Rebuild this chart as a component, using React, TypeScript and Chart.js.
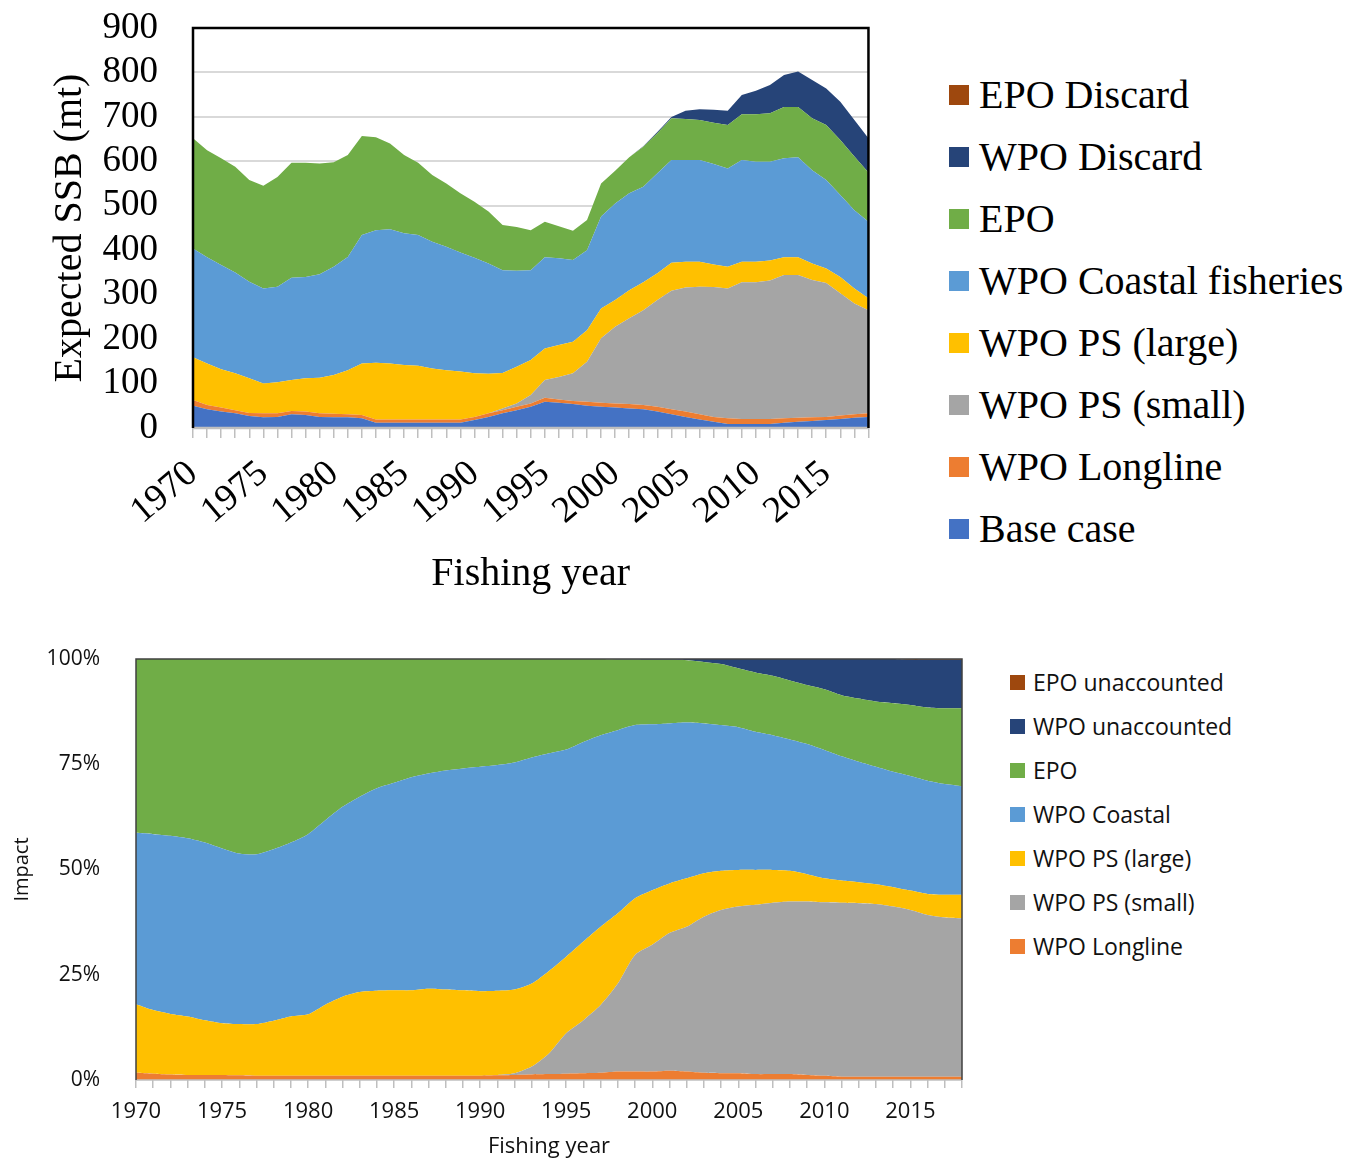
import React, { useEffect, useRef } from "react";
import { Chart, registerables } from "chart.js";
Chart.register(...registerables);

const years = [
  1970, 1971, 1972, 1973, 1974, 1975, 1976, 1977, 1978, 1979,
  1980, 1981, 1982, 1983, 1984, 1985, 1986, 1987, 1988, 1989,
  1990, 1991, 1992, 1993, 1994, 1995, 1996, 1997, 1998, 1999,
  2000, 2001, 2002, 2003, 2004, 2005, 2006, 2007, 2008, 2009,
  2010, 2011, 2012, 2013, 2014, 2015, 2016, 2017, 2018,
];

// ---- Top chart: expected SSB (mt), stacked ----
const baseCase = [50,42,37,33,27,24,25,31,29,25,24,24,22,12,12,12,12,12,12,12,18,25,33,40,48,59,57,54,50,48,46,44,42,37,31,25,19,14,9,9,9,9,12,14,16,18,20,23,25];
const wpoLongline = [13,10,9,7,7,9,8,7,8,8,8,7,7,7,7,7,7,7,7,7,7,8,7,8,7,9,7,7,9,9,9,10,10,11,11,12,12,11,13,11,11,11,10,9,8,7,8,8,8];
const wpoPsSmall = [0,0,0,0,0,0,0,0,0,0,0,0,0,0,0,0,0,0,0,0,0,0,4,7,19,40,51,62,90,145,173,193,213,240,267,279,287,292,292,308,308,312,322,321,309,301,275,249,232];
const wpoPsLarge = [96,93,86,83,78,67,70,70,75,80,87,99,116,128,126,123,121,115,111,108,98,89,80,83,79,71,72,71,71,67,60,63,63,60,63,58,56,51,49,46,46,45,40,40,37,33,37,34,27];
const wpoCoastal = [245,239,235,227,217,214,215,230,228,233,244,255,289,298,302,296,294,285,278,268,260,248,231,216,202,205,195,184,180,207,217,218,215,225,231,229,229,226,221,229,225,222,223,225,210,199,184,176,172];
const epo = [248,241,240,238,229,231,247,259,257,249,235,229,223,209,193,176,163,150,142,133,126,117,102,98,90,80,72,66,68,74,74,81,90,90,94,92,90,93,98,103,107,109,115,113,117,124,124,121,111];
const wpoDiscard = [0,0,0,0,0,0,0,0,0,0,0,0,0,0,0,0,0,0,0,0,0,0,0,0,0,0,0,0,0,0,0,0,1,3,3,19,24,29,32,43,53,64,72,80,86,82,86,82,77];
const epoDiscard = [0,0,0,0,0,0,0,0,0,0,0,0,0,0,0,0,0,0,0,0,0,0,0,0,0,0,0,0,0,0,0,0,0,0,0,0,0,0,0,0,0,0,0,0,0,0,0,0,0];

const topNames = ["Base case", "WPO Longline", "WPO PS (small)", "WPO PS (large)", "WPO Coastal fisheries", "EPO", "WPO Discard", "EPO Discard"];
const topSeries = [baseCase, wpoLongline, wpoPsSmall, wpoPsLarge, wpoCoastal, epo, wpoDiscard, epoDiscard];
const topColors = ["#4472C4", "#ED7D31", "#A5A5A5", "#FFC000", "#5B9BD5", "#70AD47", "#264478", "#9E480E"];
const topYTicks = [0, 100, 200, 300, 400, 500, 600, 700, 800, 900];

// ---- Bottom chart: impact (%), stacked to 100 ----
const impLongline = [1.7,1.5,1.3,1.2,1.2,1.2,1.1,1.0,1.0,1.0,1.0,1.0,1.0,1.0,1.0,1.0,1.0,1.0,1.0,1.0,1.0,1.1,1.2,1.3,1.4,1.5,1.6,1.7,2.0,2.0,2.0,2.2,2.0,1.7,1.6,1.6,1.4,1.4,1.4,1.2,1.0,0.8,0.8,0.8,0.8,0.8,0.8,0.8,0.8];
const impPsSmall = [0,0,0,0,0,0,0,0,0,0,0,0,0,0,0,0,0,0,0,0,0,0.1,0.4,1.9,4.9,9.6,12.6,16.1,20.9,27.7,30.1,32.7,34.4,37.1,38.8,39.6,40.2,40.7,41.0,41.2,41.2,41.3,41.2,41.0,40.4,39.6,38.4,37.8,37.6];
const impPsLarge = [16.3,15.1,14.4,13.9,13.0,12.3,12.2,12.3,13.1,14.1,14.6,16.9,18.8,19.9,20.2,20.3,20.3,20.7,20.5,20.3,20.1,20.0,19.9,19.7,19.6,18.2,18.7,18.6,16.7,13.5,13.0,11.8,11.5,10.3,9.3,8.7,8.3,7.8,7.3,6.5,5.7,5.3,5.0,4.7,4.6,4.6,5.0,5.4,5.6];
const impCoastal = [40.7,41.8,42.3,42.3,42.2,41.5,40.5,40.3,40.7,41.3,42.8,43.8,45.1,46.4,48.1,49.3,50.6,51.1,52.0,52.7,53.3,53.6,53.9,53.7,51.7,49.2,47.4,45.5,43.5,41.1,39.4,38.0,37.0,35.6,34.6,33.9,32.8,32.0,31.2,30.9,30.5,29.5,28.6,27.9,27.4,27.2,26.9,26.3,25.8];
const impEpo = [41.3,41.6,42.0,42.6,43.6,45.0,46.2,46.4,45.2,43.6,41.6,38.3,35.1,32.7,30.7,29.4,28.1,27.2,26.5,26.0,25.6,25.2,24.6,23.4,22.4,21.5,19.7,18.1,16.8,15.6,15.3,15.1,14.8,14.6,14.5,14.0,14.1,14.1,14.0,14.0,14.4,14.5,15.0,15.5,16.3,16.9,17.4,18.0,18.5];
const impWpoUnacc = [0,0,0,0,0,0,0,0,0,0,0,0,0,0,0,0,0,0,0,0,0,0,0,0,0,0,0,0.05,0.1,0.1,0.2,0.2,0.3,0.7,1.2,2.2,3.2,4.0,5.1,6.2,7.2,8.6,9.4,10.1,10.5,10.7,11.3,11.5,11.5];
const impEpoUnacc = [0,0,0,0,0,0,0,0,0,0,0,0,0,0,0,0,0,0,0,0,0,0,0,0,0,0,0,0,0,0,0,0,0,0,0,0,0,0,0,0,0,0,0,0,0,0.2,0.2,0.2,0.2];

const botNames = ["WPO Longline", "WPO PS (small)", "WPO PS (large)", "WPO Coastal", "EPO", "WPO unaccounted", "EPO unaccounted"];
const botSeries = [impLongline, impPsSmall, impPsLarge, impCoastal, impEpo, impWpoUnacc, impEpoUnacc];
const botColors = ["#ED7D31", "#A5A5A5", "#FFC000", "#5B9BD5", "#70AD47", "#264478", "#9E480E"];
const botYTicks = [0, 25, 50, 75, 100];

const SERIF = "'Liberation Serif', 'Times New Roman', serif";
const SANS = "'Open Sans', 'Noto Sans', sans-serif";
const CLEAR = "rgba(0,0,0,0)";

function framePlugin(color: string, width: number, bottomColor: string) {
  return {
    id: "frame",
    afterDatasetsDraw(chart: any) {
      const { ctx, chartArea: a } = chart;
      ctx.save();
      ctx.lineWidth = width;
      ctx.strokeStyle = bottomColor;
      ctx.beginPath();
      ctx.moveTo(a.left, a.bottom);
      ctx.lineTo(a.right, a.bottom);
      ctx.stroke();
      ctx.strokeStyle = color;
      ctx.beginPath();
      ctx.moveTo(a.left, a.bottom);
      ctx.lineTo(a.left, a.top);
      ctx.lineTo(a.right, a.top);
      ctx.lineTo(a.right, a.bottom);
      ctx.stroke();
      ctx.restore();
    },
  };
}

function makeDatasets(names: string[], series: number[][], colors: string[], tension: number) {
  return series.map((data, i) => ({
    label: names[i],
    data,
    backgroundColor: colors[i],
    borderColor: CLEAR,
    borderWidth: 0,
    pointRadius: 0,
    tension,
    fill: i === 0 ? "origin" : "-1",
  }));
}

export default function App() {
  const topRef = useRef<HTMLCanvasElement>(null);
  const botRef = useRef<HTMLCanvasElement>(null);

  useEffect(() => {
    const top = new Chart(topRef.current!, {
      type: "line",
      data: { labels: years.map(String), datasets: makeDatasets(topNames, topSeries, topColors, 0) as any },
      options: {
        responsive: false,
        animation: false,
        layout: { padding: { top: 28, right: 0, left: 0, bottom: 0 } },
        plugins: { legend: { display: false }, tooltip: { enabled: false } },
        scales: {
          x: {
            offset: false,
            grid: { drawOnChartArea: false, drawTicks: true, tickLength: 10, color: "#bfbfbf", lineWidth: 1.5 },
            border: { display: false },
            ticks: {
              autoSkip: false,
              minRotation: 40,
              maxRotation: 40,
              padding: 14,
              color: "#000",
              font: { family: SERIF, size: 37 },
              callback: (_v: any, i: number) => (years[i] % 5 === 0 ? String(years[i]) : ""),
            },
            title: { display: true, text: "Fishing year", color: "#000", font: { family: SERIF, size: 40 }, padding: { top: 0, bottom: 2 } },
            afterFit: (s: any) => { s.height = 172; },
          },
          y: {
            stacked: true,
            min: 0,
            max: 900,
            afterBuildTicks: (s: any) => { s.ticks = topYTicks.map((v) => ({ value: v })); },
            ticks: { autoSkip: false, padding: 2, color: "#000", font: { family: SERIF, size: 37 } },
            grid: { color: "#d9d9d9", lineWidth: 2, drawTicks: true, tickLength: 33, tickColor: CLEAR },
            border: { display: false },
            title: { display: true, text: "Expected SSB (mt)", color: "#000", font: { family: SERIF, size: 40 }, padding: { top: 46, bottom: 0 } },
            afterFit: (s: any) => { s.width = 193; },
          },
        },
      },
      plugins: [framePlugin("#000", 2.5, "#bfbfbf")],
    } as any);

    const bot = new Chart(botRef.current!, {
      type: "line",
      data: { labels: years.map(String), datasets: makeDatasets(botNames, botSeries, botColors, 0.25) as any },
      options: {
        responsive: false,
        animation: false,
        layout: { padding: { top: 59, right: 38, left: 0, bottom: 0 } },
        plugins: { legend: { display: false }, tooltip: { enabled: false } },
        scales: {
          x: {
            offset: false,
            grid: { drawOnChartArea: false, drawTicks: true, tickLength: 8, color: "#bfbfbf", lineWidth: 1.5 },
            border: { display: false },
            ticks: {
              autoSkip: false,
              minRotation: 0,
              maxRotation: 0,
              padding: 11,
              color: "#111",
              font: { family: SANS, size: 22 },
              callback: (_v: any, i: number) => (years[i] % 5 === 0 ? String(years[i]) : ""),
            },
            title: { display: true, text: "Fishing year", color: "#111", font: { family: SANS, size: 22 }, padding: { top: 0, bottom: -2 } },
            afterFit: (s: any) => { s.height = 78; },
          },
          y: {
            stacked: true,
            min: 0,
            max: 100,
            afterBuildTicks: (s: any) => { s.ticks = botYTicks.map((v) => ({ value: v })); },
            ticks: { autoSkip: false, padding: 2, color: "#111", font: { family: SANS, size: 21 }, callback: (v: any) => v + "%" },
            grid: { display: true, drawOnChartArea: false, drawTicks: true, tickLength: 34, tickColor: CLEAR },
            border: { display: false },
            title: { display: true, text: "Impact", color: "#111", font: { family: SANS, size: 20 }, padding: { top: 10, bottom: 0 } },
            afterFit: (s: any) => { s.width = 136; },
          },
        },
      },
      plugins: [framePlugin("#404040", 1.5, "#bfbfbf")],
    } as any);

    return () => {
      top.destroy();
      bot.destroy();
    };
  }, []);

  const topLegendOrder = [7, 6, 5, 4, 3, 2, 1, 0];
  const botLegendOrder = [6, 5, 4, 3, 2, 1, 0];

  return (
    <div style={{ position: "absolute", left: 0, top: 0, width: 1351, height: 1158, background: "#fff", overflow: "hidden" }}>
      <canvas ref={topRef} width={911} height={600} style={{ position: "absolute", left: 0, top: 0 }} />
      <canvas ref={botRef} width={1000} height={558} style={{ position: "absolute", left: 0, top: 600 }} />
      {topLegendOrder.map((idx, k) => (
        <div key={"t" + k} style={{ position: "absolute", left: 949, top: 95 + k * 62 - 25, height: 50, display: "flex", alignItems: "center", whiteSpace: "nowrap" }}>
          <div style={{ width: 20, height: 20, background: topColors[idx], marginRight: 10 }} />
          <span style={{ fontFamily: SERIF, fontSize: 40, color: "#000", lineHeight: "50px" }}>{topNames[idx]}</span>
        </div>
      ))}
      {botLegendOrder.map((idx, k) => (
        <div key={"b" + k} style={{ position: "absolute", left: 1010, top: 682 + k * 44 - 15, height: 30, display: "flex", alignItems: "center", whiteSpace: "nowrap" }}>
          <div style={{ width: 15, height: 15, background: botColors[idx], marginRight: 8 }} />
          <span style={{ fontFamily: SANS, fontSize: 23, color: "#111", lineHeight: "30px" }}>{botNames[idx]}</span>
        </div>
      ))}
    </div>
  );
}
